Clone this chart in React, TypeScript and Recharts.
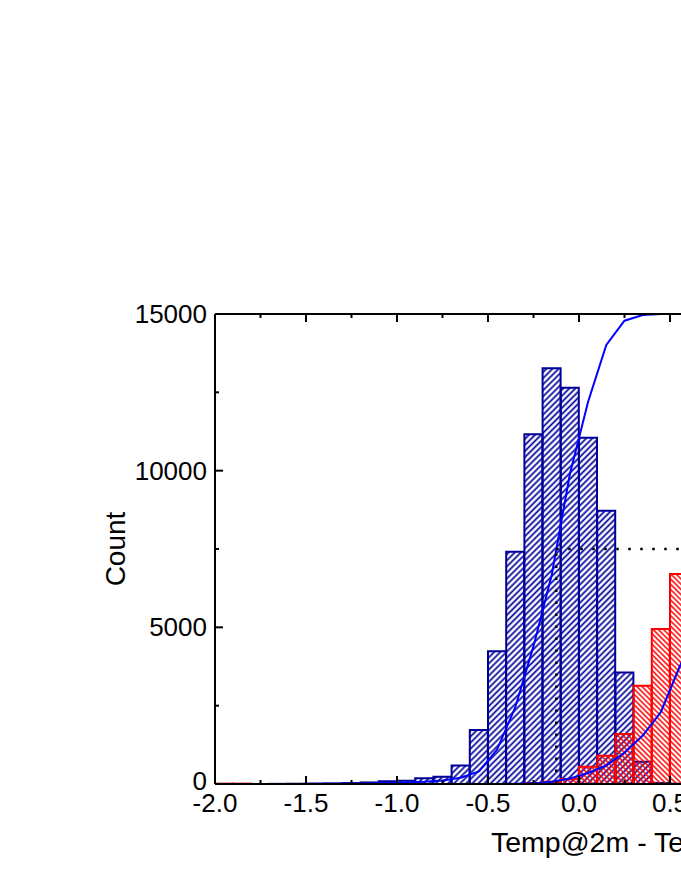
import React from 'react';
import { ComposedChart, Bar, Line, XAxis, YAxis, ReferenceLine } from 'recharts';

// Bin centres (bin width 0.1)
const BIN_CENTERS = [
  -1.95, -1.85, -1.75, -1.65, -1.55, -1.45, -1.35, -1.25, -1.15, -1.05,
  -0.95, -0.85, -0.75, -0.65, -0.55, -0.45, -0.35, -0.25, -0.15, -0.05,
  0.05, 0.15, 0.25, 0.35, 0.45, 0.55, 0.65,
];

// Blue (hatched ///) histogram counts
const BLUE_COUNTS = [
  null, null, null, 5, 8, 12, 18, 28, 50, 90,
  100, 180, 233, 590, 1720, 4240, 7410, 11160, 13270, 12650,
  11050, 8720, 3560, 713, 30, 10, null,
];

// Red (hatched \\\) histogram counts
const RED_COUNTS = [
  12, 12, null, null, null, null, null, null, null, null,
  null, null, null, null, null, null, null, 30, 75, 160,
  553, 900, 1596, 3138, 4945, 6702, null,
];

// Cumulative curves (scaled so that 100% = 15000)
const BLUE_CDF = [
  0, 0, 0, 1, 3, 5, 8, 12, 18, 28,
  45, 70, 110, 200, 400, 1100, 2450, 4400, 6670, 9894,
  12201, 14011, 14787, 14968, 15000, 15000, 15000,
];

const RED_CDF = [
  0, 0, 0, 0, 0, 0, 0, 0, 0, 0,
  0, 0, 0, 0, 0, 2, 5, 20, 70, 175,
  350, 590, 1005, 1548, 2298, 3702, 5000,
];

const X_TICKS = [
  -2, -1.75, -1.5, -1.25, -1, -0.75, -0.5, -0.25, 0, 0.25, 0.5, 0.75,
  1, 1.25, 1.5, 1.75, 2, 2.25, 2.5, 2.75, 3,
];
const Y_TICKS = [0, 2500, 5000, 7500, 10000, 12500, 15000];
const X_DOMAIN = [-2, 3];
const Y_DOMAIN = [0, 15000];

const MEDIAN_X = -0.125;
const HALF_COUNT = 7500;

const X_LABEL = 'Temp@2m - Temp@10m (°C)';
const Y_LABEL = 'Count';

const data = BIN_CENTERS.map((x, i) => ({
  x,
  blue: BLUE_COUNTS[i],
  red: RED_COUNTS[i],
  cdfBlue: BLUE_CDF[i],
  cdfRed: RED_CDF[i],
}));

const FONT = '"Liberation Sans", Arial, Helvetica, sans-serif';
const NAVY = '#000099';
const RED = '#FF0000';
const BLUE = '#0000FF';

const isMajorX = (v: number) => Math.abs(v * 2 - Math.round(v * 2)) < 1e-6;

function BottomTick(props: any) {
  const { x, y, payload } = props;
  const v = payload.value as number;
  const major = isMajorX(v);
  return (
    <g>
      <line x1={x} y1={y} x2={x} y2={y - (major ? 8 : 4)} stroke="#000" strokeWidth={2} />
      {major && (
        <text x={x} y={y + 28} textAnchor="middle" fontSize={26} fontFamily={FONT} fill="#000">
          {v.toFixed(1)}
        </text>
      )}
    </g>
  );
}

function TopTick(props: any) {
  const { x, y, payload } = props;
  const major = isMajorX(payload.value);
  return <line x1={x} y1={y} x2={x} y2={y + (major ? 8 : 4)} stroke="#000" strokeWidth={2} />;
}

function LeftTick(props: any) {
  const { x, y, payload } = props;
  const v = payload.value as number;
  const major = v % 5000 === 0;
  return (
    <g>
      <line x1={x} y1={y} x2={x + (major ? 8 : 4)} y2={y} stroke="#000" strokeWidth={2} />
      {major && (
        <text x={x - 8} y={y + (v === 0 ? 6 : 9)} textAnchor="end" fontSize={26} fontFamily={FONT} fill="#000">
          {String(v)}
        </text>
      )}
    </g>
  );
}

export default function App() {
  return (
    <div style={{ position: 'absolute', left: 0, top: 0, width: 681, height: 881, overflow: 'hidden', background: '#fff' }}>
      <ComposedChart
        width={1185}
        height={881}
        data={data}
        margin={{ top: 304, right: 60, bottom: 29, left: 15 }}
        barCategoryGap={0}
        barGap={0}
      >
        <defs>
          <pattern id="hatchBlue" patternUnits="userSpaceOnUse" width={4.3} height={4.3} patternTransform="rotate(45)">
            <line x1={2.15} y1={0} x2={2.15} y2={4.3} stroke={NAVY} strokeWidth={1.7} />
          </pattern>
          <pattern id="hatchRed" patternUnits="userSpaceOnUse" width={3.7} height={3.7} patternTransform="rotate(-45)">
            <line x1={1.85} y1={0} x2={1.85} y2={3.7} stroke={RED} strokeWidth={1.5} />
          </pattern>
        </defs>
        <XAxis
          xAxisId="bottom"
          dataKey="x"
          type="number"
          domain={X_DOMAIN}
          ticks={X_TICKS}
          interval={0}
          allowDataOverflow
          height={68}
          tickSize={0}
          tickMargin={0}
          tick={(p: any) => <BottomTick {...p} />}
          axisLine={{ stroke: '#000', strokeWidth: 2 }}
          label={{ value: X_LABEL, position: 'insideBottom', offset: 0, dx: 9, fontSize: 28.5, fontFamily: FONT, fill: '#000' }}
        />
        <XAxis
          xAxisId="top"
          orientation="top"
          dataKey="x"
          type="number"
          domain={X_DOMAIN}
          ticks={X_TICKS}
          interval={0}
          allowDataOverflow
          height={10}
          tickSize={0}
          tickMargin={0}
          tick={(p: any) => <TopTick {...p} />}
          axisLine={{ stroke: '#000', strokeWidth: 2 }}
        />
        <XAxis xAxisId="hb" dataKey="x" type="number" domain={X_DOMAIN} allowDataOverflow hide />
        <YAxis
          yAxisId="left"
          type="number"
          domain={Y_DOMAIN}
          ticks={Y_TICKS}
          interval={0}
          width={200}
          tickSize={0}
          tickMargin={0}
          tick={(p: any) => <LeftTick {...p} />}
          axisLine={{ stroke: '#000', strokeWidth: 2 }}
          label={{ value: Y_LABEL, angle: -90, position: 'center', fontSize: 28, fontFamily: FONT, fill: '#000' }}
        />
        <Bar
          xAxisId="bottom"
          yAxisId="left"
          dataKey="blue"
          fill="url(#hatchBlue)"
          stroke={NAVY}
          strokeWidth={2}
          isAnimationActive={false}
        />
        <Bar
          xAxisId="hb"
          yAxisId="left"
          dataKey="red"
          fill="url(#hatchRed)"
          stroke={RED}
          strokeWidth={2}
          isAnimationActive={false}
        />
        <Line
          xAxisId="bottom"
          yAxisId="left"
          dataKey="cdfBlue"
          type="linear"
          stroke={BLUE}
          strokeWidth={2}
          dot={false}
          activeDot={false}
          isAnimationActive={false}
        />
        <Line
          xAxisId="bottom"
          yAxisId="left"
          dataKey="cdfRed"
          type="linear"
          stroke={BLUE}
          strokeWidth={2}
          dot={false}
          activeDot={false}
          isAnimationActive={false}
        />
        <ReferenceLine
          xAxisId="bottom"
          yAxisId="left"
          segment={[{ x: MEDIAN_X, y: HALF_COUNT }, { x: X_DOMAIN[1], y: HALF_COUNT }]}
          stroke="#000"
          strokeWidth={2.5}
          strokeDasharray="2.5 9.5"
        />
        <ReferenceLine
          xAxisId="bottom"
          yAxisId="left"
          segment={[{ x: MEDIAN_X, y: 0 }, { x: MEDIAN_X, y: HALF_COUNT }]}
          stroke="#000"
          strokeWidth={2.5}
          strokeDasharray="2.5 9.5"
        />
      </ComposedChart>
    </div>
  );
}
